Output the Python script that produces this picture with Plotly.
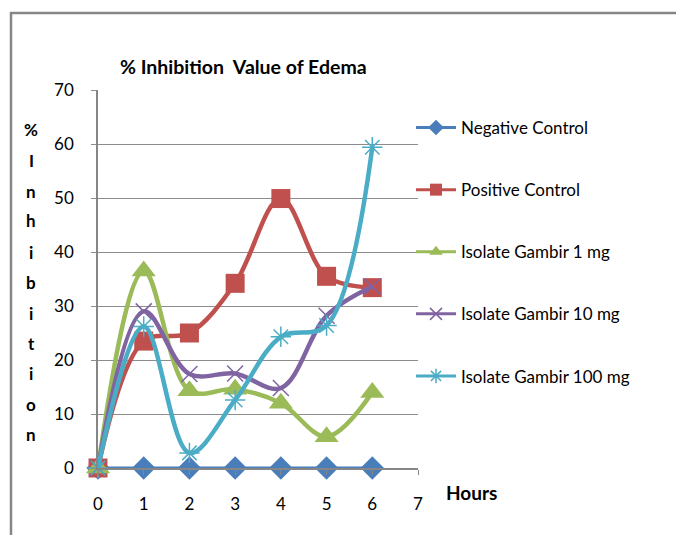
import plotly.graph_objects as go

hours = [0, 1, 2, 3, 4, 5, 6]
negative_control = [0, 0, 0, 0, 0, 0, 0]
positive_control = [0, 23.5, 25, 34.2, 49.9, 35.5, 33.4]
gambir_1mg = [0, 36.5, 14.3, 14.6, 12.0, 5.8, 14.0]
gambir_10mg = [0, 29.0, 17.4, 17.5, 14.8, 28.2, 33.6]
gambir_100mg = [0, 26.2, 2.8, 12.6, 24.3, 26.4, 59.4]

series = [
    ("Negative Control", negative_control, "#4A7EBB", "diamond", 18, "linear", 3),
    ("Positive Control", positive_control, "#C0504D", "square", 19, "spline", 4.5),
    ("Isolate Gambir 1 mg", gambir_1mg, "#9BBB59", "triangle-up", 21, "spline", 4.5),
    ("Isolate Gambir 10 mg", gambir_10mg, "#8064A2", "x-thin-open", 16, "spline", 4.5),
    ("Isolate Gambir 100 mg", gambir_100mg, "#4BACC6", "asterisk-open", 17, "spline", 4.5),
]

W, H = 676, 535
L, R, T, B = 98, 418, 90, 468
pw, ph = R - L, B - T

def px(x):
    return (x - L) / pw

def py(y):
    return (B - y) / ph

fig = go.Figure()
for i, (name, vals, col, sym, size, shape, lw) in enumerate(series):
    is_line_marker = sym in ("x-thin-open", "asterisk-open")
    fig.add_trace(go.Scatter(
        x=hours, y=vals, mode="lines+markers", name=name,
        line=dict(color=col, width=lw, shape=shape, smoothing=1),
        marker=dict(symbol=sym, size=size, color=col,
                    line=dict(color=col, width=1.5 if is_line_marker else 0)),
        showlegend=False, cliponaxis=False,
    ))
for i, (name, vals, col, sym, size, shape, lw) in enumerate(series):
    is_line_marker = sym in ("x-thin-open", "asterisk-open")
    fig.add_trace(go.Scatter(
        x=[None], y=[None], mode="lines+markers", name=name,
        line=dict(color=col, width=3),
        marker=dict(symbol=sym, size=12, color=col,
                    line=dict(color=col, width=1.5 if is_line_marker else 0)),
        legendgroup=name, showlegend=True,
    ))

annotations = [
    dict(text="<b>% Inhibition  Value of Edema</b>", x=px(243), y=py(67),
         xref="paper", yref="paper", showarrow=False,
         font=dict(size=19.5, color="black", family="Lato"), xanchor="center", yanchor="middle"),
    dict(text="<b>Hours</b>", x=px(471), y=py(492),
         xref="paper", yref="paper", showarrow=False,
         font=dict(size=19, color="black", family="Lato"), xanchor="center", yanchor="middle"),
]
letters = ["%", "I", "n", "h", "i", "b", "i", "t", "i", "o", "n"]
ypos = [129, 160, 191, 221, 252, 282, 313, 343, 373, 404, 434]
for ch, yy in zip(letters, ypos):
    annotations.append(dict(text="<b>%s</b>" % ch, x=px(31), y=py(yy), xref="paper", yref="paper",
                            showarrow=False, font=dict(size=17, color="black", family="Lato"),
                            xanchor="center", yanchor="middle"))

fig.update_layout(
    width=W, height=H,
    margin=dict(l=L, r=W - R, t=T, b=H - B, pad=0, autoexpand=False),
    paper_bgcolor="white", plot_bgcolor="white",
    font=dict(family="Lato", size=17, color="black"),
    showlegend=True,
    legend=dict(x=px(411), y=py(110), xanchor="left", yanchor="top",
                tracegroupgap=37, traceorder="grouped",
                font=dict(size=17, color="black", family="Lato"),
                bgcolor="rgba(0,0,0,0)", itemwidth=40),
    annotations=annotations,
    shapes=[dict(type="rect", xref="paper", yref="paper",
                 x0=px(11), x1=px(720), y0=py(13), y1=py(600),
                 line=dict(color="#868686", width=2.5), layer="below")],
    xaxis=dict(range=[0, 7], dtick=1, tick0=0, showgrid=False, showline=True,
               linecolor="#868686", linewidth=1.5, ticks="outside", ticklen=5,
               tickcolor="#868686", zeroline=False, ticklabelstandoff=15,
               tickfont=dict(size=17, color="black")),
    yaxis=dict(range=[0, 70], dtick=10, showgrid=True, gridcolor="#8c8c8c", gridwidth=1.3,
               showline=True, linecolor="#868686", linewidth=1.5, ticks="outside", ticklen=5,
               tickcolor="#8c8c8c", zeroline=False, ticklabelstandoff=14,
               tickfont=dict(size=17, color="black")),
)

fig.write_html("out.html", config={"displayModeBar": False},
               post_script="document.body.style.margin='0px';document.body.style.overflow='hidden';")
